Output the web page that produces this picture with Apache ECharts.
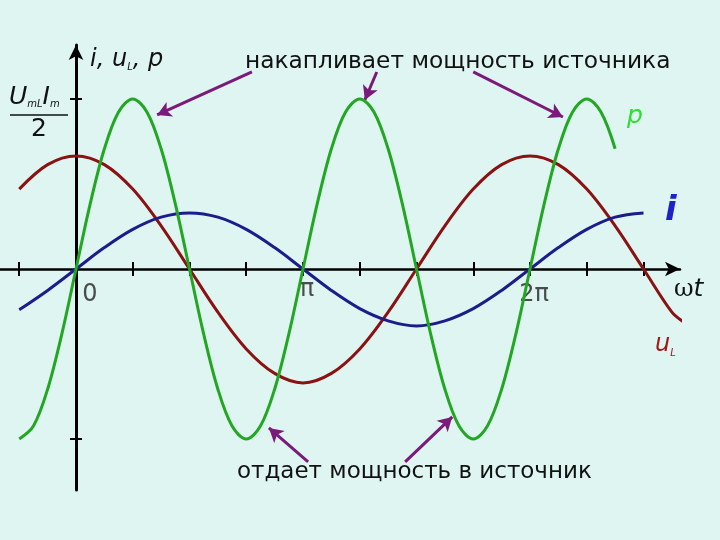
<!DOCTYPE html>
<html><head><meta charset="utf-8">
<script src="https://cdn.jsdelivr.net/npm/echarts@6/dist/echarts.min.js"></script>
<style>html,body{margin:0;padding:0;background:#dff5f1}#c{width:720px;height:540px}</style>
</head><body><div id="c"></div>
<script>
// x in units of pi/4 (tick spacing); y normalized so that p peak = 1
const tickValues = [-1,0,1,2,3,4,5,6,7,8,9,10];
const tickLabelValues = [0, 4, 8];
const tickLabelTexts = ['0', '\u03c0', '2\u03c0'];
const iX = [-1,-0.5,0,0.5,1,1.5,2,2.5,3,3.5,4,4.5,5,5.5,6,6.5,7,7.5,8,8.5,9,9.5,10];
const iY = [-0.24,-0.126,0,0.126,0.233,0.305,0.33,0.305,0.233,0.126,0,-0.126,-0.233,-0.305,-0.335,-0.305,-0.233,-0.126,0,0.126,0.233,0.305,0.33];
const uX = [-1,-0.5,0,0.5,1,1.5,2,2.5,3,3.5,4,4.5,5,5.5,6,6.5,7,7.5,8,8.5,9,9.5,10,10.5,10.7];
const uY = [0.47,0.614,0.665,0.614,0.47,0.254,0,-0.254,-0.47,-0.614,-0.67,-0.614,-0.47,-0.254,0,0.254,0.47,0.614,0.665,0.614,0.47,0.254,0,-0.254,-0.31];
const pX = [-1,-0.75,-0.5,-0.25,0,0.25,0.5,0.75,1,1.25,1.5,1.75,2,2.25,2.5,2.75,3,3.25,3.5,3.75,4,4.25,4.5,4.75,5,5.25,5.5,5.75,6,6.25,6.5,6.75,7,7.25,7.5,7.75,8,8.25,8.5,8.75,9,9.25,9.5];
const pY = [-1,-0.924,-0.707,-0.383,0,0.383,0.707,0.924,1,0.924,0.707,0.383,0,-0.383,-0.707,-0.924,-1,-0.924,-0.707,-0.383,0,0.383,0.707,0.924,1,0.924,0.707,0.383,0,-0.383,-0.707,-0.924,-1,-0.924,-0.707,-0.383,0,0.383,0.707,0.924,1,0.924,0.707];
// annotation arrows [tailX, tailY, headX, headY]
const arrows = [[3.10,1.159,1.43,0.906],[5.30,1.159,5.09,0.994],[7.0,1.159,8.58,0.894],[4.09,-1.135,3.40,-0.935],[5.80,-1.135,6.63,-0.87]];
const topText = 'накапливает мощность источника';
const bottomText = 'отдает мощность в источник';

const zip = (xs, ys) => xs.map((x, k) => [x, ys[k]]);
const FONT = 'DejaVu Sans';
const SMOOTH = 0.34;
const labelOffsets = [[14,0],[4,-5],[4,0]];
const chart = echarts.init(document.getElementById('c'));
const xCommon = {type:'value', min:-1.339, max:10.643, splitLine:{show:false}};
const yCommon = {type:'value', min:-1.3, max:1.3176, splitLine:{show:false}};
chart.setOption({
  backgroundColor:'#dff5f1',
  animation:false,
  grid:{left:0, right:40, top:45, bottom:50},
  xAxis:[
    Object.assign({}, xCommon, {position:'bottom',
      axisLine:{onZero:true, onZeroAxisIndex:0, symbol:['none','arrow'], symbolSize:[11,15], lineStyle:{color:'#000', width:2.5}},
      axisTick:{show:true, customValues:tickValues, length:7, lineStyle:{color:'#000', width:2}},
      axisLabel:{show:false}}),
    Object.assign({}, xCommon, {position:'top',
      axisLine:{show:false, onZero:true, onZeroAxisIndex:0},
      axisTick:{show:true, customValues:tickValues, length:7, lineStyle:{color:'#000', width:2}},
      axisLabel:{show:false}})
  ],
  yAxis:[
    Object.assign({}, yCommon, {position:'left',
      axisLine:{onZero:true, onZeroAxisIndex:0, symbol:['none','arrow'], symbolSize:[11,15], lineStyle:{color:'#000', width:3}},
      axisTick:{show:true, customValues:[-1,1], length:6, lineStyle:{color:'#000', width:2}},
      axisLabel:{show:false}}),
    Object.assign({}, yCommon, {position:'right',
      axisLine:{show:false, onZero:true, onZeroAxisIndex:0},
      axisTick:{show:true, customValues:[-1,1], length:6, lineStyle:{color:'#000', width:2}},
      axisLabel:{show:false}})
  ],
  series:[
    {type:'line', name:'u', data:zip(uX,uY), smooth:SMOOTH, showSymbol:false, lineStyle:{color:'#8b1212', width:3}, z:3},
    {type:'line', name:'i', data:zip(iX,iY), smooth:SMOOTH, showSymbol:false, lineStyle:{color:'#1c1c8a', width:3}, z:4},
    {type:'line', name:'p', data:zip(pX,pY), smooth:SMOOTH, showSymbol:false, lineStyle:{color:'#22a722', width:3}, z:5,
      markLine:{silent:true, symbol:['none','arrow'], symbolSize:[12,14], label:{show:false},
        lineStyle:{color:'#7a1a7a', width:3, type:'solid'},
        data:arrows.map(a => [{coord:[a[0],a[1]]},{coord:[a[2],a[3]]}])}},
    {type:'scatter', name:'tickLabels', symbolSize:0, silent:true,
      data:tickLabelValues.map((v, k) => ({value:[v, 0], label:{offset:labelOffsets[k]}})),
      label:{show:true, position:'bottom', formatter:p => tickLabelTexts[p.dataIndex],
        color:'#222', fontFamily:FONT, fontSize:24, distance:14}}
  ],
  graphic:[
    {type:'text', left:90, top:48, style:{rich:{
        it:{fontFamily:FONT, fontStyle:'italic', fontSize:24, fill:'#111'},
        s:{fontFamily:FONT, fontStyle:'italic', fontSize:10, fill:'#111', padding:[14,0,0,0]}},
      text:'{it|i, u}{s|L}{it|, p}'}},
    {type:'text', left:9, top:85, style:{rich:{
        it:{fontFamily:FONT, fontStyle:'italic', fontSize:25, fill:'#111'},
        s:{fontFamily:FONT, fontStyle:'italic', fontSize:10, fill:'#111', padding:[14,0,0,0]}},
      text:'{it|U}{s|mL}{it|I}{s|m}'}},
    {type:'line', shape:{x1:10, y1:115, x2:68, y2:115}, style:{stroke:'#111', lineWidth:1.5}},
    {type:'text', left:31, top:117, style:{text:'2', fontFamily:FONT, fontSize:25, fill:'#111'}},
    {type:'text', left:245, top:50, style:{text:topText, fontFamily:FONT, fontSize:23.3, fill:'#111'}},
    {type:'text', left:237, top:461, style:{text:bottomText, fontFamily:FONT, fontSize:23, fill:'#111'}},
    {type:'text', left:627, top:104, style:{text:'p', fontFamily:FONT, fontStyle:'italic', fontSize:25, fill:'#2ee02e'}},
    {type:'text', left:665, top:194, style:{text:'i', fontFamily:FONT, fontStyle:'italic', fontWeight:'bold', fontSize:34, fill:'#1a22c8'}},
    {type:'text', left:655, top:333, style:{rich:{
        it:{fontFamily:FONT, fontStyle:'italic', fontSize:24, fill:'#a01818'},
        s:{fontFamily:FONT, fontStyle:'italic', fontSize:10, fill:'#a01818', padding:[16,0,0,0]}},
      text:'{it|u}{s|L}'}},
    {type:'text', left:674, top:277, style:{rich:{
        w:{fontFamily:'DejaVu Serif', fontSize:24, fill:'#111'},
        t:{fontFamily:FONT, fontStyle:'italic', fontSize:25, fill:'#111'}},
      text:'{w|\u03c9}{t|t}'}}
  ]
});
</script></body></html>
